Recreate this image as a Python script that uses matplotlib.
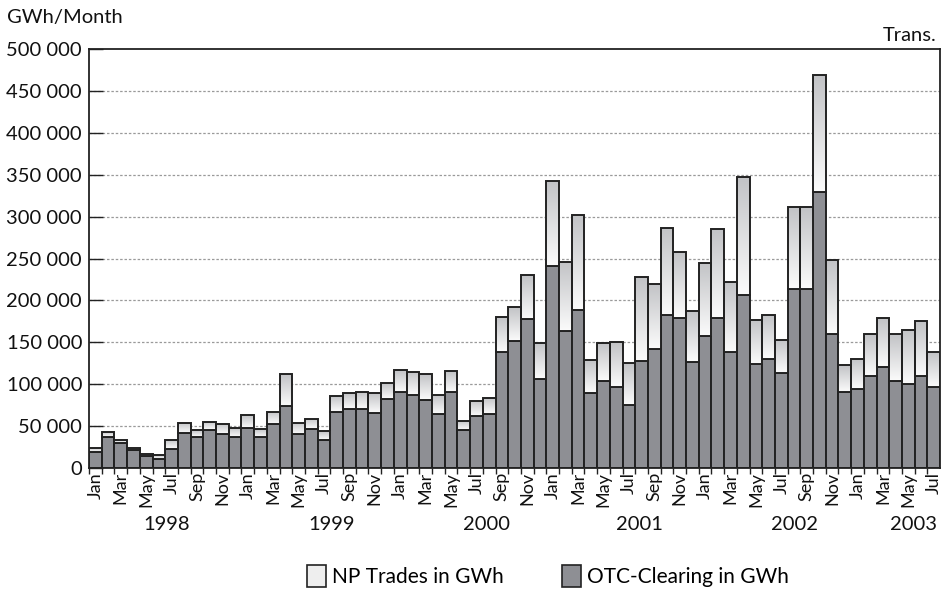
import numpy as np
import matplotlib
matplotlib.use("Agg")
import matplotlib.pyplot as plt
from matplotlib.patches import Rectangle, Patch
from matplotlib.ticker import FuncFormatter

plt.rcParams['font.family'] = ['Lato', 'DejaVu Sans']

# monthly data, Jan 1998 - Jul 2003 (GWh)
months = ['Jan', 'Feb', 'Mar', 'Apr', 'May', 'Jun',
          'Jul', 'Aug', 'Sep', 'Oct', 'Nov', 'Dec']
years = ['1998', '1999', '2000', '2001', '2002', '2003']
year_pos = [5.6, 18.6, 30.8, 42.8, 55.0, 64.4]

total = [24, 43, 34, 24, 17, 15, 34, 54, 45, 55, 52, 48,
         63, 46, 67, 112, 54, 59, 44, 86, 90, 91, 89, 101,
         117, 115, 112, 87, 116, 56, 80, 84, 180, 192, 230, 149,
         343, 246, 302, 129, 149, 150, 125, 228, 220, 287, 258, 187,
         245, 285, 222, 347, 177, 183, 153, 311, 311, 469, 248, 123,
         130, 160, 179, 160, 165, 175, 138]
otc = [19, 37, 30, 21, 14, 11, 23, 42, 37, 45, 40, 37,
       48, 37, 52, 74, 40, 46, 34, 67, 71, 70, 66, 82,
       91, 87, 81, 65, 91, 45, 62, 64, 138, 152, 178, 106,
       241, 163, 188, 90, 104, 97, 75, 128, 142, 183, 179, 127,
       157, 179, 139, 207, 124, 130, 113, 214, 214, 329, 160, 91,
       94, 110, 121, 104, 100, 110, 97]

total = np.array(total) * 1000
otc = np.array(otc) * 1000
np_trades = total - otc
n = len(total)
x = np.arange(n)
month_labels = [months[i % 12] for i in range(n)]

dark = '#8e8f94'
edge = '#222222'

fig = plt.figure(figsize=(9.42, 5.89), dpi=100)
ax = fig.add_axes([0.0945, 0.2054, 0.9035, 0.7114])

for v in range(50000, 500000, 50000):
    ax.axhline(v, color='#9a9a9a', lw=0.9, ls=(0, (2, 1.5)), zorder=0)

ax.bar(x, otc, width=1.0, color=dark, edgecolor=edge, lw=1.4, zorder=2)

# gradient for NP trades
grad = np.linspace(0, 1, 64).reshape(-1, 1)
cmap = matplotlib.colors.LinearSegmentedColormap.from_list(
    'g', ['#fbfbfb', '#c2c3c6'])
for i in range(n):
    rect = Rectangle((x[i] - 0.5, otc[i]), 1.0, np_trades[i],
                     facecolor='none', edgecolor=edge, lw=1.4, zorder=4)
    im = ax.imshow(grad, cmap=cmap, aspect='auto', origin='lower',
                   extent=(x[i] - 0.5, x[i] + 0.5, otc[i], total[i]),
                   zorder=3, interpolation='bilinear')
    ax.add_patch(rect)
    im.set_clip_path(rect)

ax.set_xlim(-0.5, n - 0.5)
ax.set_ylim(0, 500000)

ax.set_yticks(range(0, 500001, 50000))
ax.yaxis.set_major_formatter(FuncFormatter(
    lambda v, p: f'{int(v):,}'.replace(',', ' ')))
ax.tick_params(axis='y', direction='in', length=10, width=1,
               labelsize=14.5, pad=5, colors='#222', labelcolor='#111')

ax.set_xticks(x - 0.5, minor=True)
ax.set_xticks(x[::2])
ax.set_xticklabels(month_labels[::2], rotation=90, fontsize=13)
ax.tick_params(axis='x', which='major', length=0, pad=3, labelcolor='#111')
ax.tick_params(axis='x', which='minor', length=4, width=1, color='#222')

for s in ax.spines.values():
    s.set_color('#222')
    s.set_linewidth(1.3)

for yr, p in zip(years, year_pos):
    ax.text(p, -0.135, yr, transform=ax.get_xaxis_transform(),
            ha='center', va='center', fontsize=14.5, color='#111')

fig.text(0.007, 0.971, 'GWh/Month', fontsize=14.5, ha='left', va='center', color='#111')
fig.text(0.994, 0.94, 'Trans.', fontsize=14.5, ha='right', va='center', color='#111')

handles = [Patch(facecolor='#eeeeee', edgecolor=edge, lw=1.2),
           Patch(facecolor=dark, edgecolor=edge, lw=1.2)]
fig.legend(handles, ['NP Trades in GWh', 'OTC-Clearing in GWh'],
           loc='center', bbox_to_anchor=(0.582, 0.022), ncol=2, frameon=False,
           fontsize=15, handlelength=0.9, handleheight=1.2,
           handletextpad=0.3, columnspacing=2.8)

fig.savefig('out.png', dpi=100)
